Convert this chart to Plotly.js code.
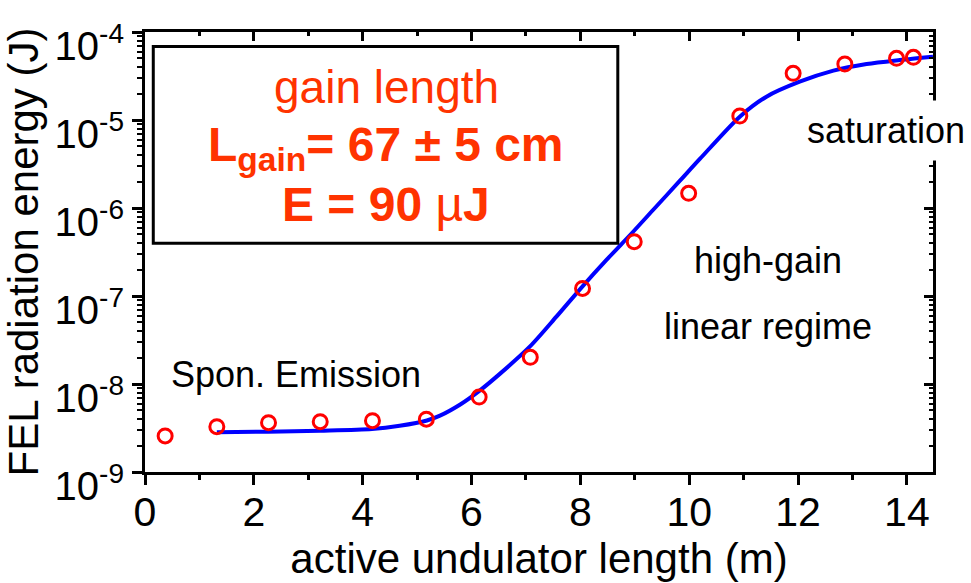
<!DOCTYPE html>
<html>
<head>
<meta charset="utf-8">
<script src="https://cdn.plot.ly/plotly-3.0.1.min.js"></script>
<style>
  html, body { margin: 0; padding: 0; background: #ffffff; }
  #chart { width: 971px; height: 583px; }
</style>
</head>
<body>
<div id="chart"></div>
<script>
const lengthMeas = [0.37, 1.32, 2.27, 3.22, 4.18, 5.17, 6.14, 7.08, 8.04, 8.99, 9.99, 10.93, 11.91, 12.86, 13.81, 14.12];
const energyMeas = [2.57e-9, 3.27e-9, 3.63e-9, 3.73e-9, 3.83e-9, 3.98e-9, 7.1e-9, 2.01e-8, 1.22e-7, 4.14e-7, 1.47e-6, 1.11e-5, 3.39e-5, 4.33e-5, 5.02e-5, 5.15e-5];

// ---- fitted curve ----
const lengthFit = [1.32, 2.26, 3.22, 4.17, 4.68, 5.18, 5.42, 5.80, 6.15, 6.52, 7.07, 7.56, 8.04, 8.48, 8.97, 9.34, 9.83, 10.20, 10.93, 11.42, 12.03, 12.65, 13.26, 13.87, 14.48];
const logEnergyFit = [-8.549, -8.542, -8.531, -8.512, -8.475, -8.415, -8.36, -8.23, -8.075, -7.885, -7.576, -7.235, -6.89, -6.59, -6.27, -6.02, -5.69, -5.44, -4.962, -4.735, -4.565, -4.439, -4.364, -4.318, -4.28];
const energyFit = logEnergyFit.map(v => Math.pow(10, v));

// ---- tick labels ----
const xTickVals = [0, 2, 4, 6, 8, 10, 12, 14];
const xTickLabels = ['0', '2', '4', '6', '8', '10', '12', '14'];
const xMinorVals = [1, 3, 5, 7, 9, 11, 13];
const yTickVals = [1e-9, 1e-8, 1e-7, 1e-6, 1e-5, 1e-4];
const yTickLabels = ['10<sup>-9</sup>', '10<sup>-8</sup>', '10<sup>-7</sup>', '10<sup>-6</sup>', '10<sup>-5</sup>', '10<sup>-4</sup>'];
const yMinorVals = [];
for (let d = -9; d < -4; d++) {
  for (let m = 2; m <= 9; m++) yMinorVals.push(m * Math.pow(10, d));
}

// ---- text labels ----
const boxLines = ['gain length', '<b>L<sub>gain</sub>= 67 ± 5 cm</b>', '<b>E = 90 </b>µ<b>J</b>'];
const regionLabels = ['Spon. Emission', 'high-gain', 'linear regime', 'saturation'];

const FONT = '"Liberation Sans", Arial, Helvetica, sans-serif';
const XRANGE = [0, 14.48];
const YRANGE = [-9, -4];

const traces = [
  {
    x: lengthFit, y: energyFit, type: 'scatter', mode: 'lines',
    line: { color: '#0000ff', width: 4, shape: 'spline', smoothing: 0.8 }, hoverinfo: 'skip', showlegend: false
  },
  {
    x: lengthMeas, y: energyMeas, type: 'scatter', mode: 'markers',
    marker: { symbol: 'circle-open', size: 14, color: '#ff0000', line: { width: 3, color: '#ff0000' } },
    showlegend: false
  },
  { x: [], y: [], xaxis: 'x2', yaxis: 'y2', type: 'scatter', mode: 'markers', showlegend: false, hoverinfo: 'skip' }
];

const axisCommon = {
  showgrid: false, zeroline: false, showline: true, linecolor: '#000', linewidth: 3,
  tickcolor: '#000', tickwidth: 3, ticklen: 10
};

const layout = {
  width: 971, height: 583,
  margin: { l: 145, r: 38, t: 32, b: 111 },
  paper_bgcolor: '#ffffff', plot_bgcolor: '#ffffff',
  font: { family: FONT, color: '#000' },
  showlegend: false,
  xaxis: Object.assign({}, axisCommon, {
    range: XRANGE, ticks: 'outside',
    tickmode: 'array', tickvals: xTickVals, ticktext: xTickLabels,
    tickfont: { family: FONT, size: 41, color: '#000' },
    ticklabelstandoff: -8,
    minor: { tickmode: 'array', tickvals: xMinorVals, ticks: 'outside', ticklen: 5, tickwidth: 3, tickcolor: '#000' },
    title: { text: 'active undulator length (m)', font: { family: FONT, size: 42, color: '#000' }, standoff: 8 }
  }),
  yaxis: Object.assign({}, axisCommon, {
    type: 'log', range: YRANGE, ticks: 'outside',
    tickmode: 'array', tickvals: yTickVals, ticktext: yTickLabels,
    tickfont: { family: FONT, size: 40, color: '#000' },
    ticklabelshift: 14, ticklabeloverflow: 'allow',
    minor: { tickmode: 'array', tickvals: yMinorVals, ticks: 'outside', ticklen: 5, tickwidth: 2, tickcolor: '#000' },
    title: { text: 'FEL radiation energy (J)', font: { family: FONT, size: 42, color: '#000' }, standoff: 4 }
  }),
  xaxis2: Object.assign({}, axisCommon, {
    range: XRANGE, overlaying: 'x', side: 'top', anchor: 'y2', ticks: 'inside', ticklen: 9,
    tickmode: 'array', tickvals: xTickVals, showticklabels: false,
    minor: { tickmode: 'array', tickvals: xMinorVals, ticks: 'inside', ticklen: 4, tickwidth: 3, tickcolor: '#000' }
  }),
  yaxis2: Object.assign({}, axisCommon, {
    type: 'log', range: YRANGE, overlaying: 'y', side: 'right', anchor: 'x2', ticks: 'inside', ticklen: 9,
    tickmode: 'array', tickvals: yTickVals, showticklabels: false,
    minor: { tickmode: 'array', tickvals: yMinorVals, ticks: 'inside', ticklen: 4, tickwidth: 2, tickcolor: '#000' }
  }),
  shapes: [
    { type: 'rect', xref: 'paper', yref: 'paper', x0: 0.0105, x1: 0.600, y0: 0.520, y1: 0.967,
      line: { color: '#000', width: 3 }, fillcolor: 'rgba(0,0,0,0)' }
  ],
  annotations: [
    { xref: 'paper', yref: 'paper', x: 0.306, y: 0.875, text: boxLines[0], showarrow: false,
      xanchor: 'center', yanchor: 'middle', font: { family: FONT, size: 46, color: '#ff3300' } },
    { xref: 'paper', yref: 'paper', x: 0.306, y: 0.737, text: boxLines[1], showarrow: false,
      xanchor: 'center', yanchor: 'middle', font: { family: FONT, size: 48, color: '#ff3300' } },
    { xref: 'paper', yref: 'paper', x: 0.306, y: 0.607, text: boxLines[2], showarrow: false,
      xanchor: 'center', yanchor: 'middle', font: { family: FONT, size: 48, color: '#ff3300' } },
    { xref: 'paper', yref: 'paper', x: 0.192, y: 0.222, text: regionLabels[0], showarrow: false,
      xanchor: 'center', yanchor: 'middle', font: { family: FONT, size: 36, color: '#000' } },
    { xref: 'paper', yref: 'paper', x: 0.79, y: 0.48, text: regionLabels[1], showarrow: false,
      xanchor: 'center', yanchor: 'middle', font: { family: FONT, size: 36, color: '#000' } },
    { xref: 'paper', yref: 'paper', x: 0.79, y: 0.33, text: regionLabels[2], showarrow: false,
      xanchor: 'center', yanchor: 'middle', font: { family: FONT, size: 36, color: '#000' } },
    { xref: 'paper', yref: 'paper', x: 0.94, y: 0.777, text: regionLabels[3], showarrow: false,
      xanchor: 'center', yanchor: 'middle', bgcolor: '#ffffff', borderpad: 9,
      font: { family: FONT, size: 36, color: '#000' } }
  ]
};

Plotly.newPlot('chart', traces, layout, { displayModeBar: false, staticPlot: true });
</script>
</body>
</html>
